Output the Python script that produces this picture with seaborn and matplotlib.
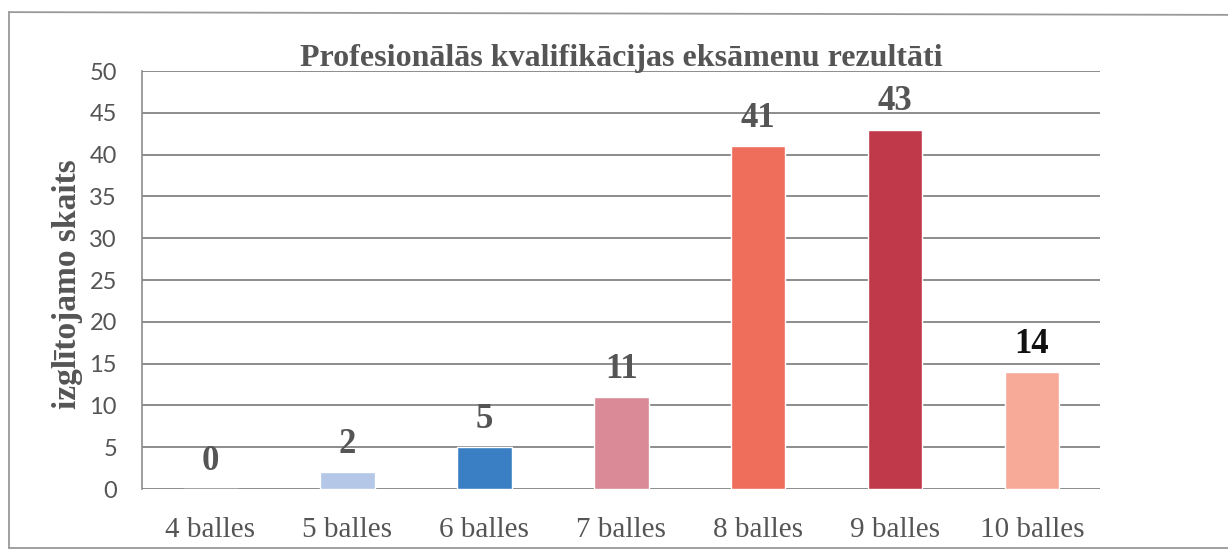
import matplotlib
matplotlib.use("Agg")
import pandas as pd
import seaborn as sns
import matplotlib.pyplot as plt
from matplotlib.lines import Line2D

# Dati
kategorijas = ['4 balles', '5 balles', '6 balles', '7 balles', '8 balles', '9 balles', '10 balles']
skaits = [0, 2, 5, 11, 41, 43, 14]
krasas = ['#b4c7e7', '#b4c7e7', '#3a7fc4', '#d98a96', '#ee6d5b', '#c0394a', '#f7aa98']
etiketes_krasas = ['#555555', '#555555', '#555555', '#555555', '#555555', '#555555', '#111111']
y_ticks = [0, 5, 10, 15, 20, 25, 30, 35, 40, 45, 50]

df = pd.DataFrame({'kategorija': kategorijas, 'skaits': skaits})

sns.set_style('white')
fig = plt.figure(figsize=(12.28, 5.51), dpi=100)
ax = fig.add_axes([0.1156, 0.1125, 0.7805, 0.7585])

sns.barplot(data=df, x='kategorija', y='skaits', hue='kategorija',
            palette=krasas, legend=False, width=0.4, ax=ax, saturation=1)

ax.set_ylim(0, 50)
ax.set_yticks(y_ticks)
ax.set_xlim(-0.5, len(kategorijas) - 0.5)
ax.grid(axis='y', color='#8c8c8c', linewidth=1.4)
ax.set_axisbelow(True)
for s in ['top', 'right', 'bottom']:
    ax.spines[s].set_visible(False)
ax.spines['left'].set_color('#8c8c8c')
ax.spines['left'].set_linewidth(1.2)
ax.tick_params(axis='y', length=8, color='#8c8c8c', width=1.2,
               labelsize=17, labelcolor='#555555', pad=10)
ax.tick_params(axis='x', length=0, labelsize=21, labelcolor='#555555', pad=20)
for t in ax.get_xticklabels():
    t.set_family('Liberation Serif')
for t in ax.get_yticklabels():
    t.set_family('Lato')

ax.set_xlabel('')
ax.set_ylabel('izglītojamo skaits', family='Liberation Serif', fontweight='bold',
              fontsize=24, color='#555555')
ax.yaxis.set_label_coords(-0.061, 0.49)
ax.set_title('Profesionālās kvalifikācijas eksāmenu rezultāti', family='Liberation Serif',
             fontweight='bold', fontsize=23, color='#555555', pad=4)

for i, v in enumerate(skaits):
    ax.annotate(str(v), (i, v), xytext=(0, 20), textcoords='offset points',
                ha='center', va='center', family='Liberation Serif', fontweight='bold',
                fontsize=25, color=etiketes_krasas[i])

# rāmis ap diagrammu (bez labās malas)
ramis = dict(transform=fig.transFigure, color='#999999', linewidth=1.3)
fig.lines.append(Line2D([0.0073, 1.0], [0.978, 0.973], **ramis))
fig.lines.append(Line2D([0.0073, 0.0073], [0.978, 0.0055], **ramis))
fig.lines.append(Line2D([0.0073, 1.0], [0.0055, 0.0055], **ramis))

fig.savefig('out.png', dpi=100)
